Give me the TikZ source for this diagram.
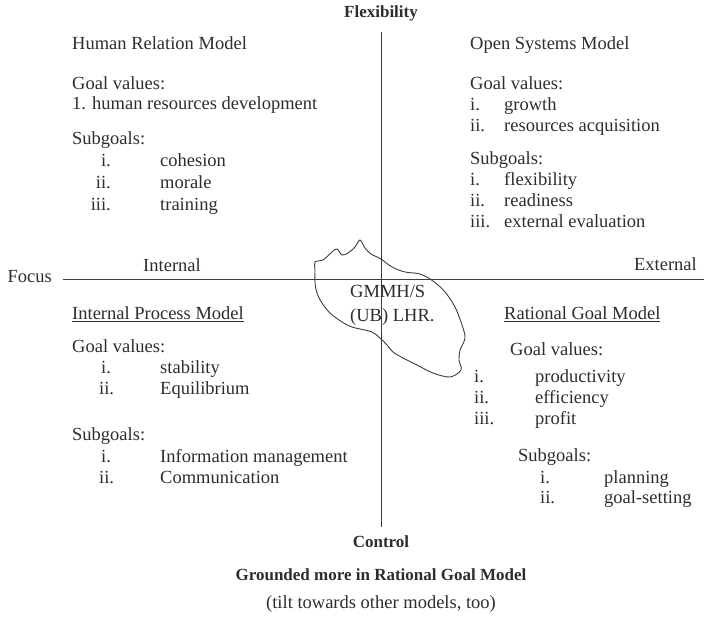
\documentclass[tikz,border=0pt]{standalone}
\usepackage{fontspec}
\setmainfont{Liberation Serif}
\begin{document}
\begin{tikzpicture}[x=1pt,y=-1pt,
  ink/.style={color={rgb,255:red,45;green,45;blue,45}},
  txt/.style={ink,anchor=west,inner sep=0pt,font=\fontsize{18.5}{20}\selectfont,
              text height=13pt,text depth=4pt},
  num/.style={txt},
  numr/.style={txt,anchor=east},
  head/.style={txt,anchor=center,font=\bfseries\fontsize{17}{19}\selectfont},
  axis/.style={draw={rgb,255:red,60;green,60;blue,60},line width=0.8pt},
  blob/.style={draw={rgb,255:red,60;green,60;blue,60},line width=0.9pt}]
\useasboundingbox (0,0) rectangle (704,617);

% axes
\coordinate (vtop) at (381,32);
\coordinate (vbot) at (381,527);
\coordinate (hleft) at (63,279);
\coordinate (hright) at (704,279);
\draw[axis] (vtop) -- (vbot);
\draw[axis] (hleft) -- (hright);

% axis labels
\node[head] (flex) at (381,13) {Flexibility};
\node[head] (ctrl) at (381,543) {Control};
\node[txt,anchor=east] (focus) at (52,278) {Focus};
\node[txt,anchor=center] (internal) at (172,267) {Internal};
\node[txt,anchor=east] (external) at (697,266) {External};

% central region
\draw[blob] plot[smooth cycle,tension=0.55] coordinates {
  (315,262) (323,260) (332,252) (337,249) (342,255) (348,253) (355,247)
  (360,240) (365,248) (371,254) (381,259) (392,267) (405,272) (420,274)
  (433,281) (445,292) (455,307) (462,325) (465,338) (460,350) (459,360)
  (461,370) (450,377) (433,373) (417,365) (403,358) (393,352) (387,345)
  (380,338) (372,332) (360,329) (352,327) (342,322) (330,313) (322,303)
  (317,293) (315,283) (315,270)};
\node[txt] (gm1) at (350,293) {GMMH/S};
\node[txt] (gm2) at (350,317) {(UB) LHR.};

% Human Relation Model
\node[txt] (hrm) at (72,45) {Human Relation Model};
\node[txt] (hrmg) at (72,85) {Goal values:};
\node[txt] (hrmg1) at (72,105) {1. human resources development};
\node[txt] (hrms) at (72,140) {Subgoals:};
\node[numr] (hrmn1) at (111,162) {i.};
\node[txt] (hrms1) at (160,162) {cohesion};
\node[numr] (hrmn2) at (111,184) {ii.};
\node[txt] (hrms2) at (160,184) {morale};
\node[numr] (hrmn3) at (111,206) {iii.};
\node[txt] (hrms3) at (160,206) {training};

% Open Systems Model
\node[txt] (osm) at (470,45) {Open Systems Model};
\node[txt] (osmg) at (470,85) {Goal values:};
\node[num] (osmn1) at (470,106) {i.};
\node[txt] (osmg1) at (504,106) {growth};
\node[num] (osmn2) at (470,127) {ii.};
\node[txt] (osmg2) at (504,127) {resources acquisition};
\node[txt] (osms) at (470,160) {Subgoals:};
\node[num] (osmn3) at (470,181) {i.};
\node[txt] (osms1) at (504,181) {flexibility};
\node[num] (osmn4) at (470,202) {ii.};
\node[txt] (osms2) at (504,202) {readiness};
\node[num] (osmn5) at (470,223) {iii.};
\node[txt] (osms3) at (504,223) {external evaluation};

% Internal Process Model
\node[txt] (ipm) at (72,315) {\underline{Internal Process Model}};
\node[txt] (ipmg) at (72,348) {Goal values:};
\node[num] (ipmn1) at (101,369) {i.};
\node[txt] (ipmg1) at (160,369) {stability};
\node[num] (ipmn2) at (99,390) {ii.};
\node[txt] (ipmg2) at (160,390) {Equilibrium};
\node[txt] (ipms) at (72,436) {Subgoals:};
\node[num] (ipmn3) at (101,458) {i.};
\node[txt] (ipms1) at (160,458) {Information management};
\node[num] (ipmn4) at (99,479) {ii.};
\node[txt] (ipms2) at (160,479) {Communication};

% Rational Goal Model
\node[txt] (rgm) at (504,315) {\underline{Rational Goal Model}};
\node[txt] (rgmg) at (510,351) {Goal values:};
\node[num] (rgmn1) at (474,378) {i.};
\node[txt] (rgmg1) at (535,378) {productivity};
\node[num] (rgmn2) at (474,399) {ii.};
\node[txt] (rgmg2) at (535,399) {efficiency};
\node[num] (rgmn3) at (474,420) {iii.};
\node[txt] (rgmg3) at (535,420) {profit};
\node[txt] (rgms) at (518,457) {Subgoals:};
\node[num] (rgmn4) at (540,479) {i.};
\node[txt] (rgms1) at (604,479) {planning};
\node[num] (rgmn5) at (540,499) {ii.};
\node[txt] (rgms2) at (604,499) {goal-setting};

% conclusion
\node[head] (ground) at (381,576) {Grounded more in Rational Goal Model};
\node[txt,anchor=center] (tilt) at (381,604) {(tilt towards other models, too)};
\end{tikzpicture}
\end{document}
